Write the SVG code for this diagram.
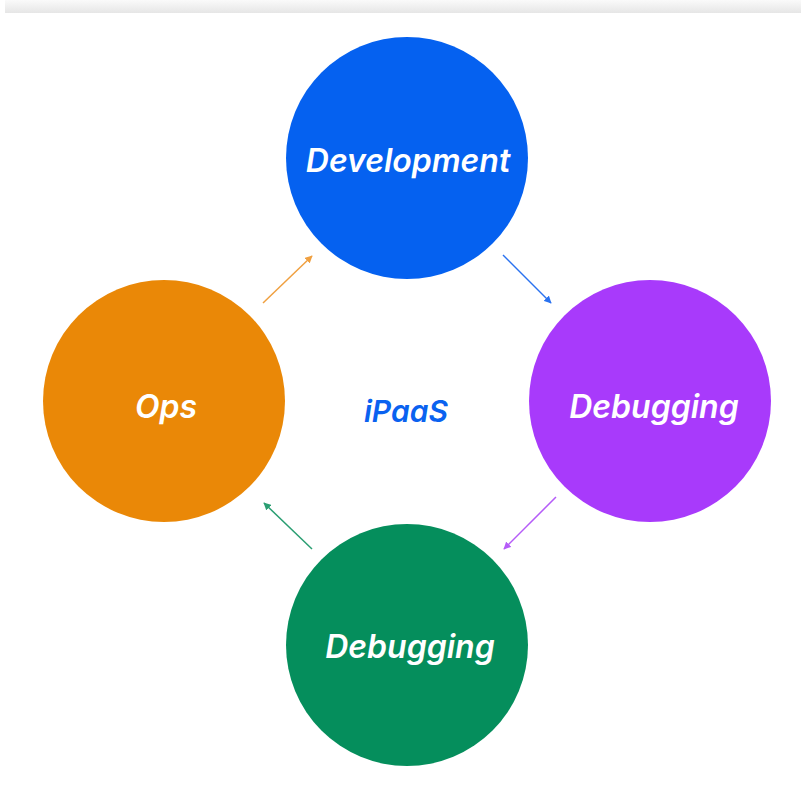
<svg xmlns="http://www.w3.org/2000/svg" width="801" height="787" viewBox="0 0 801 787">
<style>
.lbl{font-family:Inter,"Noto Sans",sans-serif;font-weight:600;font-style:italic;font-size:32px;fill:#fff;text-anchor:middle;dominant-baseline:central}
.ctr{font-family:Inter,"Noto Sans",sans-serif;font-weight:600;font-style:italic;font-size:30px;fill:#0A62F0;text-anchor:middle;dominant-baseline:central}
.c{stroke-width:1.5;fill:none}
</style>
<defs>
<linearGradient id="bar" x1="0" y1="0" x2="0" y2="1">
<stop offset="0" stop-color="#fafafa"/><stop offset="1" stop-color="#e6e6e6"/>
</linearGradient>
<marker id="aO" viewBox="0 0 10 10" refX="9" refY="5" markerWidth="5" markerHeight="5" orient="auto"><path d="M0,0L10,5L0,10z" fill="#F0A040"/></marker>
<marker id="aB" viewBox="0 0 10 10" refX="9" refY="5" markerWidth="5" markerHeight="5" orient="auto"><path d="M0,0L10,5L0,10z" fill="#2A72F0"/></marker>
<marker id="aP" viewBox="0 0 10 10" refX="9" refY="5" markerWidth="5" markerHeight="5" orient="auto"><path d="M0,0L10,5L0,10z" fill="#B55CF8"/></marker>
<marker id="aG" viewBox="0 0 10 10" refX="9" refY="5" markerWidth="5" markerHeight="5" orient="auto"><path d="M0,0L10,5L0,10z" fill="#2A9E72"/></marker>
</defs>
<rect width="801" height="787" fill="#fff"/>
<rect x="5" y="0" width="796" height="13" fill="url(#bar)"/>
<g id="connectors">
<line class="c" x1="263" y1="303" x2="312" y2="256" stroke="#F0A040" marker-end="url(#aO)"/>
<line class="c" x1="503" y1="255" x2="551" y2="303" stroke="#2A72F0" marker-end="url(#aB)"/>
<line class="c" x1="556" y1="497" x2="504" y2="549" stroke="#B55CF8" marker-end="url(#aP)"/>
<line class="c" x1="312" y1="549" x2="264" y2="503" stroke="#2A9E72" marker-end="url(#aG)"/>
</g>
<g id="development"><circle cx="407" cy="158" r="121" fill="#0561F0"/><text class="lbl" x="408" y="160">Development</text></g>
<g id="debugging-right"><circle cx="650" cy="401" r="121" fill="#A83AFB"/><text class="lbl" x="654" y="406">Debugging</text></g>
<g id="debugging-bottom"><circle cx="407" cy="645" r="121" fill="#058E5C"/><text class="lbl" x="410" y="646">Debugging</text></g>
<g id="ops"><circle cx="164" cy="401" r="121" fill="#EA8807"/><text class="lbl" x="166" y="406">Ops</text></g>
<g id="center"><text class="ctr" x="406" y="411">iPaaS</text></g>
</svg>
